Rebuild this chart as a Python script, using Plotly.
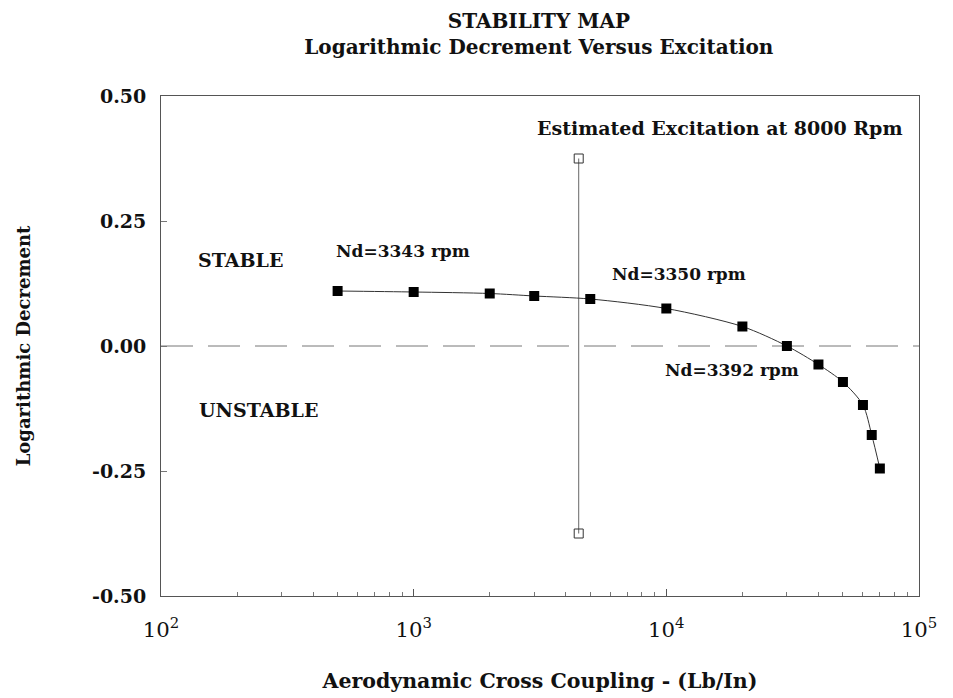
import plotly.graph_objects as go

# Data
excitation = [500, 1000, 2000, 3000, 5000, 10000, 20000, 30000, 40000, 50000, 60000, 65000, 70000]
log_decrement = [0.110, 0.108, 0.105, 0.100, 0.094, 0.075, 0.039, 0.0, -0.037, -0.072, -0.118, -0.178, -0.245]

est_excitation_x = [4500, 4500]
est_excitation_y = [0.375, -0.375]

zero_x = [100, 100000]
zero_y = [0, 0]

y_ticks = [-0.5, -0.25, 0.0, 0.25, 0.5]
y_tick_labels = ["-0.50", "-0.25", "0.00", "0.25", "0.50"]

FONT = "DejaVu Serif"
INK = "#111111"

fig = go.Figure()

fig.add_trace(go.Scatter(
    x=zero_x, y=zero_y, mode="lines",
    line=dict(color="#777777", width=1, dash="32px,15px"),
    showlegend=False, hoverinfo="skip"))

fig.add_trace(go.Scatter(
    x=est_excitation_x, y=est_excitation_y, mode="lines+markers",
    line=dict(color="#666666", width=1),
    marker=dict(symbol="square-open", size=9, color="#333333", line=dict(width=1)),
    showlegend=False))

fig.add_trace(go.Scatter(
    x=excitation, y=log_decrement, mode="lines+markers",
    line=dict(color="#333333", width=1, shape="spline", smoothing=0.8),
    marker=dict(symbol="square", size=10, color="#000000"),
    showlegend=False))

def ann(text, x, y, size=17):
    fig.add_annotation(text=text, x=x, y=y, xref="x", yref="y", showarrow=False,
                       font=dict(family=FONT, size=size, color=INK, weight="bold"))

ann("Estimated Excitation at 8000 Rpm", 4.212, 0.436, 19)
ann("Nd=3343 rpm", 2.956, 0.19)
ann("Nd=3350 rpm", 4.05, 0.145)
ann("Nd=3392 rpm", 4.26, -0.048)
ann("STABLE", 2.315, 0.172, 19)
ann("UNSTABLE", 2.384, -0.128, 19)

fig.update_layout(
    width=953, height=698,
    paper_bgcolor="white", plot_bgcolor="white",
    margin=dict(l=153, r=42, t=88, b=110),
    title=dict(text="STABILITY MAP<br>Logarithmic Decrement Versus Excitation",
               x=0.557, xanchor="center", yref="container", y=0.972, yanchor="middle",
               font=dict(family=FONT, size=20, color=INK, weight="bold")),
    font=dict(family=FONT, color=INK),
)

fig.update_xaxes(
    type="log", range=[2, 5], dtick=1, exponentformat="power",
    showgrid=False, zeroline=False,
    showline=True, mirror=True, linecolor="#555555", linewidth=1,
    ticks="inside", ticklen=7, tickcolor="#555555",
    minor=dict(ticks="inside", ticklen=4, dtick="D1", tickcolor="#777777", showgrid=False),
    tickfont=dict(family=FONT, size=17, color=INK),
    ticklabelstandoff=15,
    title=dict(text="Aerodynamic Cross Coupling - (Lb/In)", standoff=32,
               font=dict(family=FONT, size=20.5, color=INK, weight="bold")),
)

fig.update_yaxes(
    range=[-0.5, 0.5], tickvals=y_ticks, ticktext=y_tick_labels,
    showgrid=False, zeroline=False,
    showline=True, mirror=True, linecolor="#555555", linewidth=1,
    ticks="inside", ticklen=6, tickcolor="#777777",
    tickfont=dict(family=FONT, size=19, color=INK, weight="bold"),
    ticklabelstandoff=10,
    title=dict(text="Logarithmic Decrement", standoff=56,
               font=dict(family=FONT, size=18, color=INK, weight="bold")),
)

fig.write_html("out.html")
